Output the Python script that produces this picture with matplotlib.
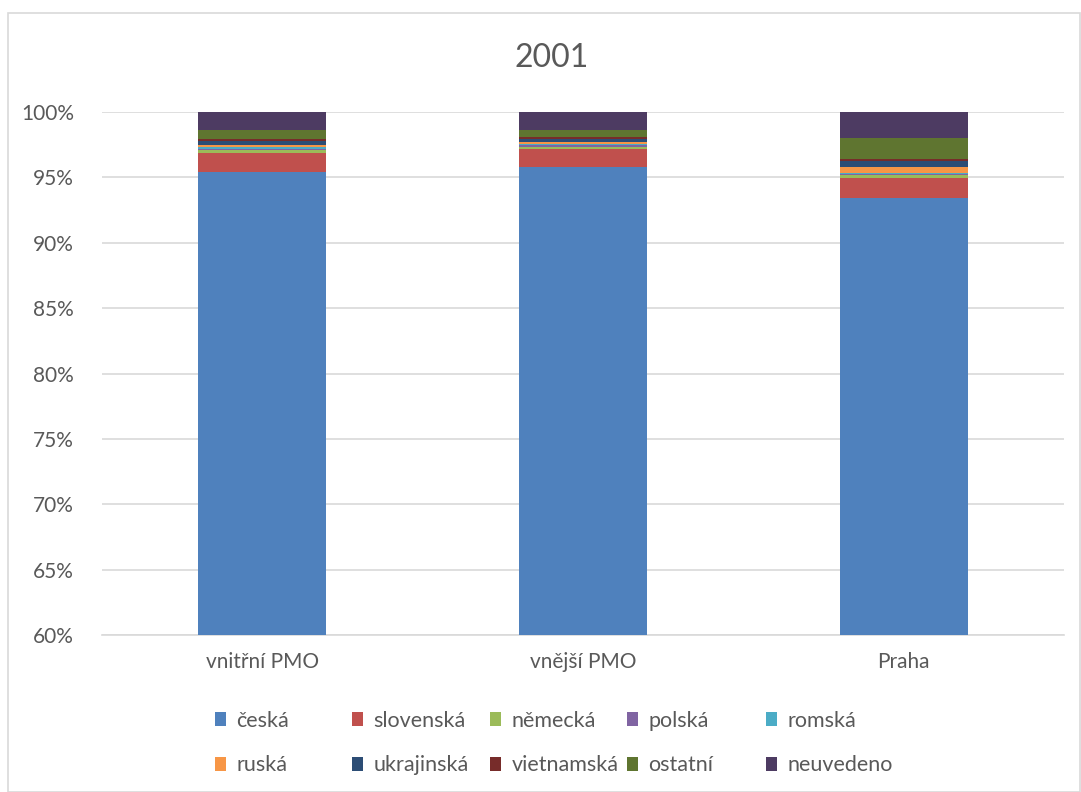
import matplotlib.pyplot as plt
from matplotlib.patches import Rectangle
from matplotlib.ticker import PercentFormatter

plt.rcParams['font.family'] = ['Lato', 'DejaVu Sans']

# Data (share of nationality, %)
kategorie = ['vnitřní PMO', 'vnější PMO', 'Praha']
narodnosti = ['česká', 'slovenská', 'německá', 'polská', 'romská',
              'ruská', 'ukrajinská', 'vietnamská', 'ostatní', 'neuvedeno']
ceska = [95.40, 95.77, 93.40]
slovenska = [1.48, 1.43, 1.58]
nemecka = [0.20, 0.15, 0.20]
polska = [0.10, 0.10, 0.05]
romska = [0.13, 0.10, 0.10]
ruska = [0.18, 0.15, 0.48]
ukrajinska = [0.33, 0.26, 0.43]
vietnamska = [0.13, 0.10, 0.20]
ostatni = [0.64, 0.54, 1.56]
neuvedeno = [1.41, 1.40, 2.00]

hodnoty = [ceska, slovenska, nemecka, polska, romska,
           ruska, ukrajinska, vietnamska, ostatni, neuvedeno]
barvy = ['#4F81BD', '#C0504D', '#9BBB59', '#8064A2', '#4BACC6',
         '#F79646', '#2C4D75', '#772C2A', '#5F7530', '#4D3B62']

text_color = '#595959'

fig = plt.figure(figsize=(10.81, 7.92), dpi=100)
ax = fig.add_axes([102 / 1081, 1 - 635 / 792, (1064 - 102) / 1081, (635 - 112) / 792])

x = range(len(kategorie))
spodek = [0, 0, 0]
handles = []
for nazev, vals, c in zip(narodnosti, hodnoty, barvy):
    b = ax.bar(x, vals, bottom=spodek, width=0.4, color=c, label=nazev, zorder=3)
    handles.append(b)
    spodek = [s + v for s, v in zip(spodek, vals)]

ax.set_ylim(60, 100)
ax.set_xlim(-0.5, 2.5)
ax.set_yticks(range(60, 101, 5))
ax.yaxis.set_major_formatter(PercentFormatter(decimals=0))
ax.set_xticks(list(x))
ax.set_xticklabels(kategorie)
ax.grid(axis='y', color='#D9D9D9', linewidth=1.2, zorder=0)
for s in ['top', 'right', 'left']:
    ax.spines[s].set_visible(False)
ax.spines['bottom'].set_color('#D9D9D9')
ax.spines['bottom'].set_linewidth(1.2)
ax.tick_params(length=0, labelsize=15, colors=text_color)
ax.tick_params(axis='y', pad=20)
ax.tick_params(axis='x', pad=12)

fig.text(552 / 1081, 1 - 58 / 792, '2001', ha='center', va='center',
         fontsize=23, color=text_color)

# legend: 5 equal-width columns, two rows
col_x = [215, 352, 490, 627, 766]
for j, cx in enumerate(col_x):
    idx = [j, j + 5]
    leg = fig.legend([handles[i] for i in idx], [narodnosti[i] for i in idx],
                     loc='center left', bbox_to_anchor=(cx / 1081, 1 - 743 / 792),
                     frameon=False, fontsize=15.5, borderpad=0, borderaxespad=0,
                     handlelength=0.5, handleheight=0.65, handletextpad=0.5,
                     labelspacing=1.15)
    for t in leg.get_texts():
        t.set_color(text_color)

fig.patches.append(Rectangle((8 / 1081, 0), 1 - 9 / 1081, 1 - 13 / 792,
                             transform=fig.transFigure, fill=False,
                             edgecolor='#D9D9D9', linewidth=1.2))

fig.savefig('out.png', dpi=100)
